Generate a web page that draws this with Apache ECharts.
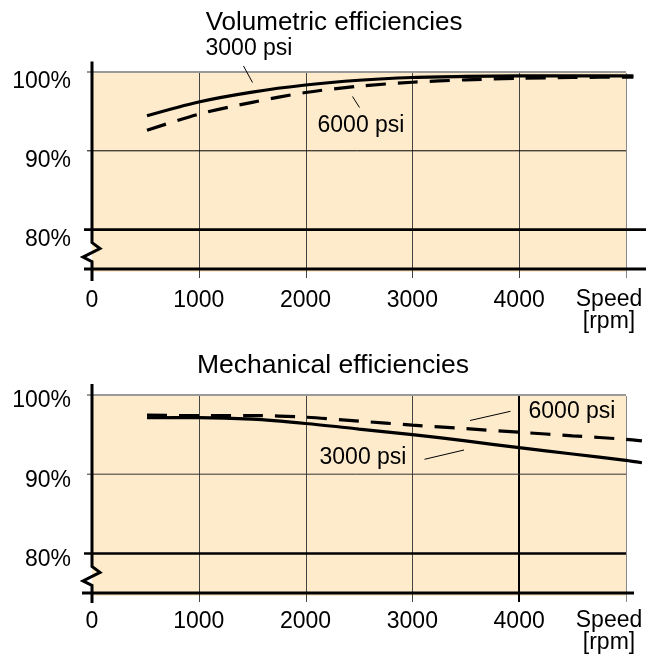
<!DOCTYPE html>
<html><head><meta charset="utf-8">
<script src="https://cdn.jsdelivr.net/npm/echarts@6/dist/echarts.min.js"></script>
<style>html,body{margin:0;padding:0;background:#fff}#c{width:646px;height:657px}</style>
</head><body><div id="c"></div>
<script>
// ---- data ----
const speedTicks = [0, 1000, 2000, 3000, 4000, 5000];
const pctTicks = [80, 90, 100];
const volSpeeds = [515, 1000, 1500, 2000, 2500, 3000, 3500, 4000, 4500, 5000, 5070];
const vol3000 = [94.45, 96.2, 97.45, 98.35, 98.95, 99.3, 99.45, 99.5, 99.5, 99.5, 99.5];
const vol6000 = [92.6, 94.65, 96.15, 97.4, 98.2, 98.7, 99.0, 99.2, 99.3, 99.35, 99.35];
const mechSpeeds = [515, 1000, 1500, 2000, 2500, 3000, 3500, 4000, 4500, 5000, 5150];
const mech3000 = [97.13, 97.15, 96.95, 96.4, 95.7, 95.0, 94.2, 93.35, 92.55, 91.75, 91.45];
const mech6000 = [97.45, 97.4, 97.4, 97.2, 96.7, 96.2, 95.75, 95.3, 94.85, 94.4, 94.2];
const titles = ['Volumetric efficiencies', 'Mechanical efficiencies'];
const seriesNames = ['3000 psi', '6000 psi'];
const axisName = 'Speed\n[rpm]';

// ---- styling ----
const FONT = '"Liberation Sans", Arial, Helvetica, sans-serif';
const FS = 23;
const BEIGE = '#feebcc';
const X_MAX = 5160;           // axis extent reaches past the last grid line, where the curves end
const zip = (xs, ys) => xs.map((x, i) => [x, ys[i]]);

const chart = echarts.init(document.getElementById('c'), null, {renderer: 'canvas'});

function xAxisCfg(gi, margin, namePad) {
  return {
    type: 'value', gridIndex: gi, min: 0, max: X_MAX, interval: 1000,
    axisLine: {show: false}, axisTick: {show: false}, splitLine: {show: false},
    axisLabel: {margin: margin, color: '#000', fontSize: FS, fontFamily: FONT, showMaxLabel: false,
      formatter: v => (speedTicks.indexOf(v) >= 0 && v < 5000 ? String(v) : '')},
    name: axisName, nameLocation: 'end', nameGap: -34,
    nameTextStyle: {color: '#000', fontSize: FS, fontFamily: FONT, align: 'center', verticalAlign: 'top',
      lineHeight: 22, padding: [namePad, 0, 0, 0]}
  };
}
function yAxisCfg(gi, off) {
  return {
    type: 'value', gridIndex: gi, min: 75, max: 100, interval: 5,
    axisLine: {show: false}, axisTick: {show: false}, splitLine: {show: false},
    axisLabel: {margin: 21, color: '#000', fontSize: FS, fontFamily: FONT, verticalAlign: 'top',
      lineHeight: off * 2,
      formatter: v => (pctTicks.indexOf(v) >= 0 ? v + '%' : '')}
  };
}
function lineSeries(gi, xs, ys, dashed) {
  return {
    type: 'line', xAxisIndex: gi, yAxisIndex: gi, data: zip(xs, ys), smooth: 0.3,
    symbol: 'none', showSymbol: false, clip: false, z: 4,
    lineStyle: {color: '#000', width: 3.2, type: dashed ? [20, 12] : 'solid', cap: 'butt'}
  };
}

const option = {
  animation: false,
  backgroundColor: '#fff',
  grid: [
    {left: 92, top: 72, width: 551, height: 197, show: false},
    {left: 92, top: 395, width: 551, height: 198, show: false}
  ],
  xAxis: [xAxisCfg(0, 20, 20), xAxisCfg(1, 17, 17)],
  yAxis: [yAxisCfg(0, 10), yAxisCfg(1, 6)],
  series: [
    lineSeries(0, volSpeeds, vol3000, false),
    lineSeries(0, volSpeeds, vol6000, true),
    lineSeries(1, mechSpeeds, mech3000, false),
    lineSeries(1, mechSpeeds, mech6000, true)
  ]
};
chart.setOption(option);

// ---- decorations computed from the axes ----
const px = (gi, x, y) => chart.convertToPixel({gridIndex: gi}, [x, y]);
const g = [];
function panel(gi) {
  const a = px(gi, 0, 100), b = px(gi, 5000, 75);
  g.push({type: 'rect', z: -10, shape: {x: a[0], y: a[1] + 1, width: b[0] - a[0] + 1, height: b[1] - a[1] + 2},
    style: {fill: BEIGE}});
}
function hline(gi, v, x1, x2, color, w) {
  const y = px(gi, 0, v)[1];
  g.push({type: 'line', z: 3, shape: {x1: x1, y1: y, x2: x2, y2: y}, style: {stroke: color, lineWidth: w}});
}
function vlines(gi, colors, widths) {
  speedTicks.forEach((s, i) => {
    if (s === 0) return;
    const a = px(gi, s, 100), b = px(gi, s, 75);
    const x = Math.round(a[0]) + (widths[i] % 2 ? 0.5 : 0);
    g.push({type: 'line', z: 2, shape: {x1: x, y1: a[1] + 1, x2: x, y2: b[1] + 9},
      style: {stroke: colors[i], lineWidth: widths[i]}});
  });
}
function axisWithBreak(gi, topExt, botExt) {
  const x0 = px(gi, 0, 100)[0];
  const yTop = px(gi, 0, 100)[1] - topExt;
  const y80 = px(gi, 0, 80)[1];
  const y75 = px(gi, 0, 75)[1];
  g.push({type: 'polyline', z: 5, shape: {points: [
    [x0, yTop], [x0, y80 + 13], [x0 + 8, y80 + 19], [x0 - 9, y80 + 27.5], [x0, y80 + 32], [x0, y75 + botExt]
  ]}, style: {stroke: '#000', lineWidth: 3, fill: null, lineJoin: 'miter'}});
}
function text(x, y, s, fs) {
  g.push({type: 'text', z: 6, x: x, y: y, style: {text: s, fill: '#000', fontSize: fs || FS, fontFamily: FONT,
    align: 'center', verticalAlign: 'middle'}});
}
function leader(x1, y1, x2, y2) {
  g.push({type: 'line', z: 6, shape: {x1, y1, x2, y2}, style: {stroke: '#000', lineWidth: 1}});
}

// top chart
panel(0);
vlines(0, ['#000', '#444', '#444', '#444', '#444', '#888'], [1, 1, 1, 1, 1, 1]);
hline(0, 100, 87, 626, '#777', 1.4);
hline(0, 90, 87, 626, '#000', 1);
hline(0, 80, 84, 646, '#000', 2.8);
hline(0, 75, 84, 646, '#000', 3);
axisWithBreak(0, 10.5, 12);
// bottom chart
panel(1);
vlines(1, ['#000', '#444', '#444', '#444', '#000', '#888'], [1, 1, 1, 1, 2, 1]);
hline(1, 100, 87, 626, '#777', 1.4);
hline(1, 90, 87, 626, '#333', 1);
hline(1, 80, 84, 626, '#000', 2.5);
hline(1, 75, 82, 634, '#000', 3);
axisWithBreak(1, 11, 10);

// titles and annotations
text(334, 22.5, titles[0], 26);
text(249, 49, seriesNames[0]);
leader(243.5, 66, 252.5, 82.5);
text(361, 126, seriesNames[1]);
leader(352.5, 96.5, 359.5, 107.5);

text(333, 366, titles[1], 26.5);
text(572, 412, seriesNames[1]);
leader(470, 420.5, 510.5, 411.3);
text(363, 458, seriesNames[0]);
leader(424.5, 459.3, 464, 450);

chart.setOption({graphic: {elements: g}});
</script></body></html>
